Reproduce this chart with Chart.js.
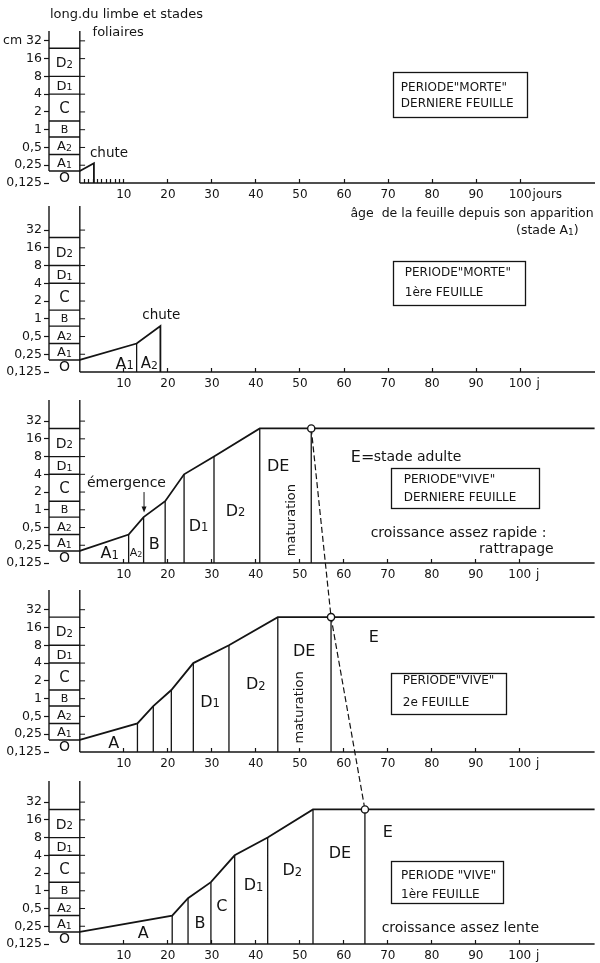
<!DOCTYPE html>
<html>
<head>
<meta charset="utf-8">
<script src="https://cdn.jsdelivr.net/npm/chart.js@4.4.1/dist/chart.umd.min.js"></script>
<style>
  html, body { margin: 0; padding: 0; background: #fff; overflow: hidden; }
  #page { position: relative; width: 600px; height: 963px; }
  #page canvas { position: absolute; left: 0; }
</style>
</head>
<body>
<div id="page"></div>
<script>
// leaf blade length (cm, log 2 scale) against age of the leaf (days)
const lengthTicks = [0.125, 0.25, 0.5, 1, 2, 4, 8, 16, 32];
const stageNames = ['O', 'A1', 'A2', 'B', 'C', 'D1', 'D2'];
const stageTops = [0.2, 0.38, 0.75, 1.4, 4, 8, 24];

const dayTicks = [10, 20, 30, 40, 50, 60, 70, 80, 90, 100];
const dayMinorTicks = [1, 2, 3, 4, 5, 6, 7, 8, 9];

// growth curves
const morte1Days = [0, 3.2, 3.2];
const morte1Len = [0.2, 0.27, 0.125];
const morte2Days = [0, 12.9, 18.3, 18.3];
const morte2Len = [0.2, 0.38, 0.75, 0.125];
const vive1Days = [0, 11.1, 14.5, 19.4, 23.7, 30.5, 40.9, 117];
const vive1Len = [0.2, 0.38, 0.75, 1.4, 4, 8, 24, 24];
const vive2Days = [0, 13.1, 16.7, 20.8, 25.8, 33.9, 45, 117];
const vive2Len = [0.2, 0.38, 0.75, 1.4, 4, 8, 24, 24];
const vive3Days = [0, 21, 24.6, 29.8, 35.2, 42.7, 53, 117];
const vive3Len = [0.2, 0.38, 0.75, 1.4, 4, 8, 24, 24];

// stage E (adult leaf) reached
const adultDays = [52.6, 57.1, 64.8];
const adultLen = 24;

const ink = '#141414';
const fontFamily = '"DejaVu Sans", sans-serif';
const xMin = -7, xMax = 117;
const pxPerOctave = 17.75;
const stageFont = [14, 13, 13, 11, 15, 13, 14];

const panels = [
  {
    bottom: 183, yMax: 47, padTop: 31, axisH: 58, top32: 'cm 32', suffix: 'jours', minor: true,
    days: morte1Days, len: morte1Len, cutDays: [], cutLen: [], adult: null,
    box: { x0: 71.1, x1: 101.6, y0: 9.5, y1: 1.64, lx: 72.9, lines: ['PERIODE"MORTE"', 'DERNIERE FEUILLE'], ly: [5.3, 2.83] },
    notes: [
      { t: 'long.du limbe et stades', x: -6.8, y: 92, size: 13, align: 'left' },
      { t: 'foliaires', x: 2.9, y: 47, size: 13, align: 'left' },
      { t: 'chute', x: 2.3, y: 0.42, size: 13.5, align: 'left' },
      { t: 'âge  de la feuille depuis son apparition', x: 116.7, y: 0.039, size: 12.5, align: 'right' },
      { t: '(stade A1)', x: 113.3, y: 0.02, size: 12.5, align: 'right' }
    ]
  },
  {
    bottom: 372, yMax: 82, padTop: 14, axisH: 20, top32: '32', suffix: ' j', minor: false,
    days: morte2Days, len: morte2Len, cutDays: [morte2Days[1]], cutLen: [morte2Len[1]], adult: null,
    box: { x0: 71.1, x1: 101, y0: 9.5, y1: 1.7, lx: 73.8, lines: ['PERIODE"MORTE"', '1ère FEUILLE'], ly: [6.2, 2.83] },
    notes: [
      { t: 'chute', x: 18.5, y: 1.2, size: 13.5, align: 'center' },
      { t: 'A1', x: 10.2, y: 0.178, size: 16, align: 'center' },
      { t: 'A2', x: 15.8, y: 0.178, size: 15, align: 'center' }
    ]
  },
  {
    bottom: 563, yMax: 73, padTop: 14, axisH: 20, top32: '32', suffix: ' j', minor: false,
    days: vive1Days, len: vive1Len, cutDays: vive1Days.slice(1, 7).concat(adultDays[0]),
    cutLen: vive1Len.slice(1, 7).concat(adultLen), adult: adultDays[0],
    box: { x0: 70.7, x1: 104.3, y0: 5.1, y1: 1.07, lx: 73.6, lines: ['PERIODE"VIVE"', 'DERNIERE FEUILLE'], ly: [3.32, 1.64] },
    arrow: { x: 14.6, y0: 2.0, y1: 0.9 },
    notes: [
      { t: 'émergence', x: 10.6, y: 2.96, size: 14, align: 'center' },
      { t: 'A1', x: 6.8, y: 0.19, size: 16, align: 'center' },
      { t: 'A2', x: 12.8, y: 0.19, size: 11, align: 'center' },
      { t: 'B', x: 16.9, y: 0.27, size: 16, align: 'center' },
      { t: 'D1', x: 27, y: 0.55, size: 16, align: 'center' },
      { t: 'D2', x: 35.4, y: 1.0, size: 16, align: 'center' },
      { t: 'DE', x: 45.1, y: 5.7, size: 16, align: 'center' },
      { t: 'maturation', x: 47.9, y: 0.67, size: 13, align: 'center', rotate: true },
      { t: 'E=', x: 61.6, y: 8.2, size: 16, align: 'left' },
      { t: 'stade adulte', x: 66.8, y: 8.2, size: 14, align: 'left' },
      { t: 'croissance assez rapide :', x: 66.1, y: 0.42, size: 14, align: 'left' },
      { t: 'rattrapage', x: 107.7, y: 0.225, size: 14, align: 'right' }
    ]
  },
  {
    bottom: 752, yMax: 69, padTop: 14, axisH: 20, top32: '32', suffix: ' j', minor: false,
    days: vive2Days, len: vive2Len, cutDays: vive2Days.slice(1, 7).concat(adultDays[1]),
    cutLen: vive2Len.slice(1, 7).concat(adultLen), adult: adultDays[1],
    box: { x0: 70.7, x1: 96.8, y0: 2.73, y1: 0.55, lx: 73.4, lines: ['PERIODE"VIVE"', '2e FEUILLE'], ly: [2.08, 0.88] },
    notes: [
      { t: 'A', x: 7.7, y: 0.185, size: 16, align: 'center' },
      { t: 'D1', x: 29.6, y: 0.91, size: 16, align: 'center' },
      { t: 'D2', x: 40, y: 1.8, size: 16, align: 'center' },
      { t: 'DE', x: 51, y: 6.5, size: 16, align: 'center' },
      { t: 'maturation', x: 49.6, y: 0.71, size: 13, align: 'center', rotate: true },
      { t: 'E', x: 66.8, y: 11.2, size: 16, align: 'center' }
    ]
  },
  {
    bottom: 944, yMax: 73, padTop: 14, axisH: 19, top32: '32', suffix: ' j', minor: false,
    days: vive3Days, len: vive3Len, cutDays: vive3Days.slice(1, 7).concat(adultDays[2]),
    cutLen: vive3Len.slice(1, 7).concat(adultLen), adult: adultDays[2],
    box: { x0: 70.7, x1: 96.2, y0: 3.2, y1: 0.62, lx: 73, lines: ['PERIODE "VIVE"', '1ère FEUILLE'], ly: [1.85, 0.91] },
    notes: [
      { t: 'A', x: 14.4, y: 0.2, size: 16, align: 'center' },
      { t: 'B', x: 27.3, y: 0.29, size: 16, align: 'center' },
      { t: 'C', x: 32.3, y: 0.56, size: 16, align: 'center' },
      { t: 'D1', x: 39.5, y: 1.27, size: 16, align: 'center' },
      { t: 'D2', x: 48.3, y: 2.3, size: 16, align: 'center' },
      { t: 'DE', x: 59.1, y: 4.5, size: 16, align: 'center' },
      { t: 'E', x: 70, y: 10.3, size: 16, align: 'center' },
      { t: 'croissance assez lente', x: 68.6, y: 0.24, size: 14, align: 'left' }
    ]
  }
];

// digits right after A or D are drawn smaller (A1, D2 ...)
function textRuns(text) {
  const runs = [];
  for (let i = 0; i < text.length; i++) {
    const sub = /\d/.test(text[i]) && /[AD]/.test(text[i - 1] || '');
    const last = runs[runs.length - 1];
    if (last && last.sub === sub) last.s += text[i];
    else runs.push({ s: text[i], sub: sub });
  }
  return runs;
}

function drawLabel(ctx, text, x, y, size, align) {
  const runs = textRuns(text);
  let w = 0;
  runs.forEach(r => {
    ctx.font = (r.sub ? size * 0.72 : size) + 'px ' + fontFamily;
    r.w = ctx.measureText(r.s).width;
    w += r.w;
  });
  let cx = align === 'left' ? x : align === 'right' ? x - w : x - w / 2;
  ctx.textAlign = 'left';
  ctx.textBaseline = 'alphabetic';
  runs.forEach(r => {
    ctx.font = (r.sub ? size * 0.72 : size) + 'px ' + fontFamily;
    ctx.fillText(r.s, cx, y + size * 0.36 + (r.sub ? size * 0.04 : 0));
    cx += r.w;
  });
}

function panelText(p) {
  return {
    id: 'panelText',
    afterDraw(chart) {
      const ctx = chart.ctx;
      const xs = chart.scales.x, ys = chart.scales.y;
      ctx.save();
      ctx.fillStyle = ink;
      ctx.strokeStyle = ink;

      // stage names in the left column
      stageNames.forEach((name, i) => {
        const lo = i === 0 ? lengthTicks[0] : stageTops[i - 1];
        const mid = Math.sqrt(lo * stageTops[i]);
        drawLabel(ctx, name, xs.getPixelForValue(xMin / 2), ys.getPixelForValue(mid), stageFont[i], 'center');
      });

      p.notes.forEach(n => {
        const px = xs.getPixelForValue(n.x), py = ys.getPixelForValue(n.y);
        if (n.rotate) {
          ctx.save();
          ctx.translate(px, py);
          ctx.rotate(-Math.PI / 2);
          drawLabel(ctx, n.t, 0, 0, n.size, 'center');
          ctx.restore();
        } else {
          drawLabel(ctx, n.t, px, py, n.size, n.align);
        }
      });

      // framed title
      const b = p.box;
      const bx0 = xs.getPixelForValue(b.x0), bx1 = xs.getPixelForValue(b.x1);
      const by0 = ys.getPixelForValue(b.y0), by1 = ys.getPixelForValue(b.y1);
      ctx.lineWidth = 1.3;
      ctx.strokeRect(Math.round(bx0) + 0.5, Math.round(by0) + 0.5, Math.round(bx1 - bx0), Math.round(by1 - by0));
      b.lines.forEach((line, i) => {
        drawLabel(ctx, line, xs.getPixelForValue(b.lx), ys.getPixelForValue(b.ly[i]), 12, 'left');
      });

      if (p.arrow) {
        const ax = xs.getPixelForValue(p.arrow.x);
        const a0 = ys.getPixelForValue(p.arrow.y0), a1 = ys.getPixelForValue(p.arrow.y1);
        ctx.lineWidth = 1;
        ctx.beginPath();
        ctx.moveTo(ax, a0);
        ctx.lineTo(ax, a1 - 5);
        ctx.stroke();
        ctx.beginPath();
        ctx.moveTo(ax - 2.5, a1 - 6);
        ctx.lineTo(ax + 2.5, a1 - 6);
        ctx.lineTo(ax, a1);
        ctx.closePath();
        ctx.fill();
      }

      // unit after the "100" tick label
      ctx.font = '12px ' + fontFamily;
      const w100 = ctx.measureText('100').width;
      ctx.textAlign = 'left';
      ctx.textBaseline = 'middle';
      ctx.fillText(p.suffix, xs.getPixelForValue(100) + w100 / 2 + 1, xs.top + 5 + 7.2);
      ctx.restore();
    }
  };
}

function line(points, width) {
  return { data: points, borderColor: ink, borderWidth: width, pointRadius: 0, clip: false, spanGaps: false, tension: 0 };
}

function buildDatasets(p) {
  const base = lengthTicks[0];
  const curve = p.days.map((d, i) => ({ x: d, y: p.len[i] }));
  const cuts = [];
  p.cutDays.forEach((d, i) => cuts.push({ x: d, y: base }, { x: d, y: p.cutLen[i] }, { x: d, y: null }));
  const column = [];
  stageTops.forEach(t => column.push({ x: xMin, y: t }, { x: 0, y: t }, { x: 0, y: null }));
  column.push({ x: xMin, y: stageTops[0] }, { x: xMin, y: p.yMax }, { x: xMin, y: null });
  column.push({ x: 0, y: base }, { x: 0, y: p.yMax });

  const sets = [];
  if (p.adult !== null) {
    sets.push({
      data: [{ x: p.adult, y: adultLen }], showLine: false, clip: false,
      pointRadius: 3.6, pointBackgroundColor: '#fff', pointBorderColor: ink, pointBorderWidth: 1.4
    });
  }
  sets.push(line(curve, 1.8));
  sets.push(line(cuts, 1.3));
  sets.push(line(column, 1.4));
  sets.push(line([{ x: 0, y: base }, { x: xMax, y: base }], 1.5));
  sets.push({
    data: lengthTicks.slice(1).map(v => ({ x: 0.6, y: v })), showLine: false, clip: false,
    pointStyle: 'line', pointRadius: 2.6, pointBorderColor: ink, pointBorderWidth: 1
  });
  return sets;
}

const page = document.getElementById('page');
const overlay = document.createElement('canvas');
overlay.width = 600;
overlay.height = 963;
overlay.style.top = '0px';
page.appendChild(overlay);

const charts = [];
const tops = [];
panels.forEach(p => {
  const plotH = pxPerOctave * Math.log2(p.yMax / lengthTicks[0]);
  const top = Math.round(p.bottom - plotH - p.padTop);
  const height = Math.round(p.bottom + p.axisH) - top;
  const canvas = document.createElement('canvas');
  canvas.width = 600;
  canvas.height = height;
  canvas.style.top = top + 'px';
  page.appendChild(canvas);
  tops.push(top);

  charts.push(new Chart(canvas.getContext('2d'), {
    type: 'line',
    data: { datasets: buildDatasets(p) },
    plugins: [panelText(p)],
    options: {
      responsive: false,
      animation: false,
      events: [],
      layout: { padding: { top: p.padTop, right: 2, bottom: 0, left: 0 } },
      plugins: { legend: { display: false }, tooltip: { enabled: false } },
      scales: {
        x: {
          type: 'linear', min: xMin, max: xMax,
          border: { display: false },
          grid: { drawOnChartArea: false, drawTicks: true, tickLength: -4, tickColor: ink, tickWidth: 1.2 },
          ticks: {
            autoSkip: false, maxRotation: 0, padding: 9, color: ink,
            font: { family: fontFamily, size: 12 },
            callback: v => dayTicks.includes(v) ? String(v) : ''
          },
          afterBuildTicks: s => { s.ticks = (p.minor ? dayMinorTicks.concat(dayTicks) : dayTicks).map(v => ({ value: v })); },
          afterFit: s => { s.height = p.axisH; }
        },
        y: {
          type: 'logarithmic', min: lengthTicks[0], max: p.yMax,
          border: { display: false },
          grid: { drawOnChartArea: false, drawTicks: true, tickLength: 5, tickColor: ink, tickWidth: 1.2 },
          ticks: {
            autoSkip: false, padding: 2, color: ink,
            font: { family: fontFamily, size: 12.5 },
            callback: v => v === 32 ? p.top32 : String(v).replace('.', ',')
          },
          afterBuildTicks: s => { s.ticks = lengthTicks.map(v => ({ value: v })); },
          afterFit: s => { s.width = 49; }
        }
      }
    }
  }));
});

// dashed line joining the stage E points of the three "vive" panels
const octx = overlay.getContext('2d');
octx.strokeStyle = ink;
octx.lineWidth = 1.2;
octx.setLineDash([6, 3]);
octx.beginPath();
adultDays.forEach((d, i) => {
  const c = charts[i + 2];
  const px = c.scales.x.getPixelForValue(d);
  const py = tops[i + 2] + c.scales.y.getPixelForValue(adultLen);
  if (i === 0) octx.moveTo(px, py); else octx.lineTo(px, py);
});
octx.stroke();
</script>
</body>
</html>
